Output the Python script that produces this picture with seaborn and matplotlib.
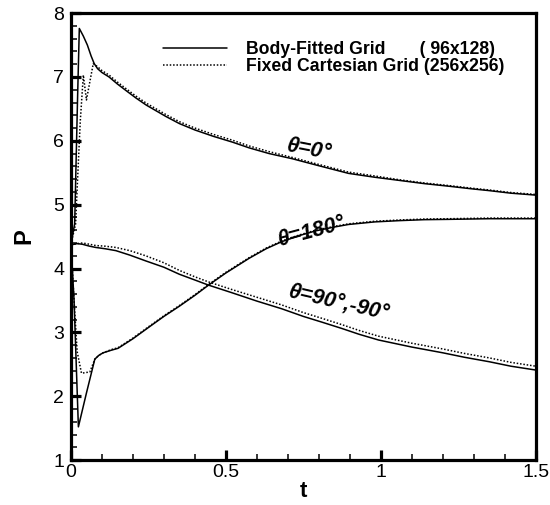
import numpy as np
import pandas as pd
import seaborn as sns
import matplotlib
matplotlib.use("Agg")
import matplotlib.pyplot as plt
from matplotlib.lines import Line2D
from matplotlib.ticker import MultipleLocator

# Pressure histories at three angular stations, two grid resolutions
t_bf_0 = [0.0, 0.012, 0.021, 0.027, 0.04, 0.053, 0.065, 0.075, 0.086, 0.10, 0.123,
          0.15, 0.177, 0.21, 0.243, 0.275, 0.307, 0.35, 0.40, 0.46, 0.521, 0.575,
          0.64, 0.714, 0.80, 0.896, 0.98, 1.06, 1.14, 1.218, 1.29, 1.35, 1.42, 1.5]
p_bf_0 = [4.38, 4.70, 6.60, 7.76, 7.64, 7.50, 7.33, 7.21, 7.13, 7.07, 7.00,
          6.89, 6.79, 6.67, 6.56, 6.47, 6.38, 6.27, 6.17, 6.07, 5.98, 5.89,
          5.80, 5.72, 5.61, 5.49, 5.43, 5.38, 5.33, 5.29, 5.25, 5.22, 5.18, 5.15]

t_fc_0 = [0.0, 0.015, 0.020, 0.030, 0.040, 0.050, 0.072, 0.086, 0.10, 0.123,
          0.15, 0.177, 0.21, 0.243, 0.275, 0.307, 0.35, 0.40, 0.46, 0.521, 0.575,
          0.64, 0.714, 0.80, 0.896, 0.98, 1.06, 1.14, 1.218, 1.29, 1.35, 1.42, 1.5]
p_fc_0 = [4.38, 4.70, 5.25, 6.30, 7.03, 6.64, 7.21, 7.16, 7.10, 7.03,
          6.92, 6.82, 6.70, 6.59, 6.50, 6.41, 6.30, 6.20, 6.10, 6.01, 5.92,
          5.83, 5.74, 5.63, 5.51, 5.45, 5.39, 5.34, 5.30, 5.26, 5.23, 5.19, 5.16]

t_bf_180 = [0.0, 0.010, 0.024, 0.05, 0.077, 0.09, 0.104, 0.13, 0.152, 0.20, 0.254,
            0.30, 0.35, 0.40, 0.444, 0.50, 0.575, 0.63, 0.68, 0.74, 0.79, 0.85,
            0.896, 0.98, 1.06, 1.14, 1.22, 1.35, 1.5]
p_bf_180 = [4.38, 3.50, 1.52, 2.05, 2.58, 2.64, 2.68, 2.72, 2.75, 2.90, 3.09,
            3.25, 3.41, 3.58, 3.74, 3.93, 4.16, 4.31, 4.42, 4.52, 4.59, 4.65,
            4.69, 4.73, 4.75, 4.765, 4.77, 4.78, 4.78]

t_fc_180 = [0.0, 0.010, 0.020, 0.034, 0.061, 0.077, 0.09, 0.104, 0.13, 0.152, 0.20,
            0.254, 0.30, 0.35, 0.40, 0.444, 0.50, 0.575, 0.63, 0.68, 0.74, 0.79,
            0.85, 0.896, 0.98, 1.06, 1.14, 1.22, 1.35, 1.5]
p_fc_180 = [4.38, 3.50, 2.70, 2.36, 2.38, 2.58, 2.64, 2.68, 2.73, 2.76, 2.91,
            3.10, 3.26, 3.42, 3.59, 3.75, 3.94, 4.17, 4.32, 4.43, 4.53, 4.60,
            4.66, 4.70, 4.74, 4.76, 4.775, 4.78, 4.79, 4.79]

t_bf_90 = [0.0, 0.02, 0.037, 0.06, 0.08, 0.11, 0.145, 0.19, 0.241, 0.30, 0.35,
           0.40, 0.444, 0.52, 0.60, 0.68, 0.75, 0.81, 0.875, 0.93, 0.993, 1.10,
           1.20, 1.27, 1.35, 1.42, 1.5]
p_bf_90 = [4.37, 4.39, 4.38, 4.35, 4.33, 4.31, 4.28, 4.21, 4.12, 4.02, 3.91,
           3.82, 3.74, 3.62, 3.49, 3.37, 3.25, 3.16, 3.06, 2.97, 2.88, 2.77,
           2.68, 2.61, 2.54, 2.47, 2.41]

t_fc_90 = [0.0, 0.02, 0.037, 0.06, 0.08, 0.11, 0.145, 0.19, 0.241, 0.30, 0.35,
           0.40, 0.444, 0.52, 0.60, 0.68, 0.75, 0.81, 0.875, 0.93, 0.993, 1.10,
           1.20, 1.27, 1.35, 1.42, 1.5]
p_fc_90 = [4.37, 4.39, 4.40, 4.38, 4.36, 4.35, 4.33, 4.28, 4.20, 4.09, 3.97,
           3.87, 3.79, 3.67, 3.55, 3.43, 3.31, 3.22, 3.12, 3.03, 2.94, 2.83,
           2.74, 2.67, 2.60, 2.53, 2.47]

legend_labels = ["Body-Fitted Grid       ( 96x128)", "Fixed Cartesian Grid (256x256)"]
curve_labels = ["θ=0°", "θ=180°", "θ=90°,-90°"]
label_t = [0.768, 0.777, 0.864]
label_p = [5.85, 4.57, 3.46]
label_rot = [-11, 15, -13]

sns.set_style("ticks")
plt.rcParams["font.family"] = ["Liberation Sans", "DejaVu Sans"]
plt.rcParams["xtick.color"] = "black"
plt.rcParams["ytick.color"] = "black"
plt.rcParams["axes.edgecolor"] = "black"
plt.rcParams["text.color"] = "black"
plt.rcParams["axes.labelcolor"] = "black"

fig = plt.figure(figsize=(5.5, 5.05), dpi=100)
ax = fig.add_axes([0.129, 0.089, 0.845, 0.885])

solid = dict(color="black", linewidth=1.1, linestyle="-")
dotted = dict(color="black", linewidth=1.1, linestyle=(0, (1, 1.2)))

for t, p in [(t_bf_0, p_bf_0), (t_bf_180, p_bf_180), (t_bf_90, p_bf_90)]:
    sns.lineplot(x=t, y=p, ax=ax, sort=False, estimator=None, **solid)
for t, p in [(t_fc_0, p_fc_0), (t_fc_180, p_fc_180), (t_fc_90, p_fc_90)]:
    sns.lineplot(x=t, y=p, ax=ax, sort=False, estimator=None, **dotted)

ax.set_xlim(0, 1.5)
ax.set_ylim(1, 8)
ax.xaxis.set_major_locator(MultipleLocator(0.5))
ax.xaxis.set_minor_locator(MultipleLocator(0.1))
ax.yaxis.set_major_locator(MultipleLocator(1))
ax.yaxis.set_minor_locator(MultipleLocator(0.2))
ax.set_xticks([0, 0.5, 1, 1.5])
ax.set_xticklabels(["0", "0.5", "1", "1.5"])

for side in ["left", "bottom", "top", "right"]:
    ax.spines[side].set_visible(True)
    ax.spines[side].set_linewidth(2.3)
    ax.spines[side].set_color("black")

ax.tick_params(which="major", direction="in", length=7, width=2.3, labelsize=14,
               pad=3, top=False, right=False, colors="black")
ax.tick_params(which="minor", direction="in", length=4, width=1.1,
               top=False, right=False, colors="black")
ax.tick_params(axis="y", which="major", pad=5)

ax.set_xlabel("t", fontsize=16, fontweight="bold", labelpad=0)
ax.set_ylabel("P", fontsize=17, fontweight="bold", labelpad=13)

for txt, x, y, r in zip(curve_labels, label_t, label_p, label_rot):
    ax.text(x, y, txt, fontsize=15.5, fontweight="bold", fontstyle="italic",
            rotation=r, ha="center", va="center", rotation_mode="anchor")

handles = [Line2D([], [], **solid), Line2D([], [], **dotted)]
leg = ax.legend(handles, legend_labels, loc="upper right", frameon=False,
                prop={"weight": "bold", "size": 12.7}, handlelength=3.6,
                handletextpad=1.1, labelspacing=0.0,
                bbox_to_anchor=(0.96, 0.965), borderaxespad=0.3)

fig.savefig("out.png", dpi=100)
